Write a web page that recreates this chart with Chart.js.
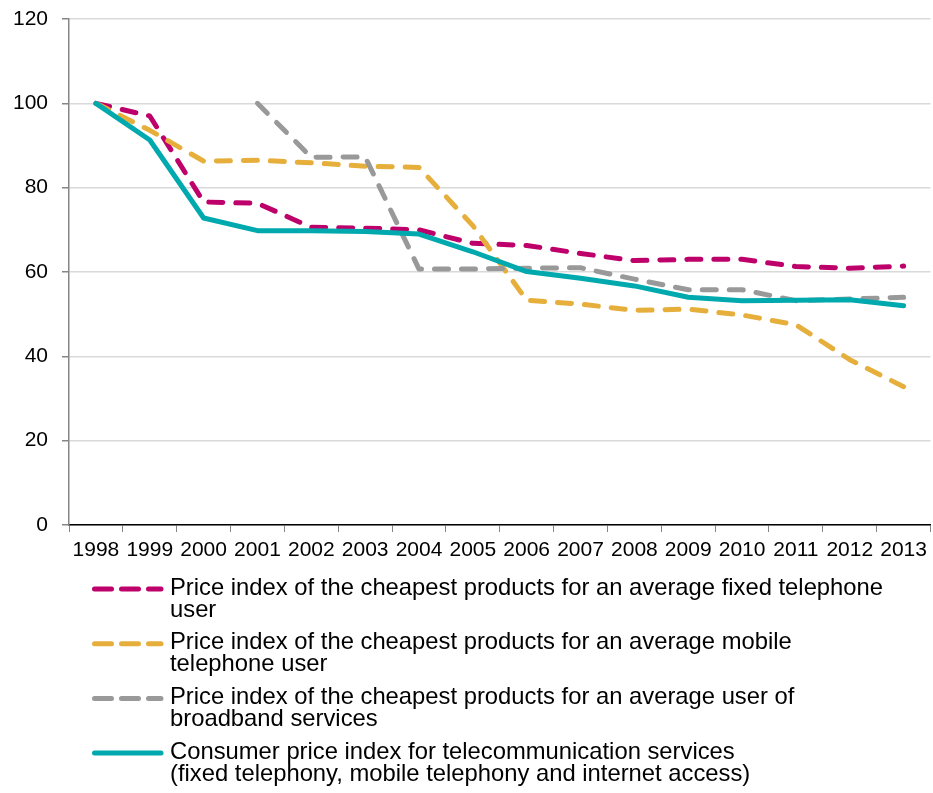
<!DOCTYPE html>
<html>
<head>
<meta charset="utf-8">
<script src="https://cdn.jsdelivr.net/npm/chart.js@4/dist/chart.umd.min.js"></script>
<style>
  html, body { margin: 0; padding: 0; background: #fff; }
  #wrap { width: 933px; height: 793px; position: relative; }
</style>
</head>
<body>
<div id="wrap"><canvas id="c"></canvas></div>
<script>
// --- data ---
const years = ['1998','1999','2000','2001','2002','2003','2004','2005','2006','2007','2008','2009','2010','2011','2012','2013'];
const fixedUser = [100, 97, 76.6, 76.3, 70.6, 70.4, 70, 66.8, 66.3, 64.4, 62.7, 63, 63, 61.3, 60.9, 61.4];
const mobileUser = [100, 93.6, 86.3, 86.5, 85.9, 85.1, 84.8, 71, 53.3, 52.4, 50.9, 51.2, 49.8, 47.5, 39.2, 32.8];
const broadbandUser = [null, null, null, 100, 87.2, 87.3, 60.7, 60.7, 60.9, 61, 58.3, 55.8, 55.8, 53.2, 53.6, 54];
const cpiTelecom = [100, 91.3, 72.8, 69.8, 69.8, 69.6, 69, 64.8, 60.1, 58.5, 56.7, 54, 53.2, 53.3, 53.4, 52];
const yTicks = [0, 20, 40, 60, 80, 100, 120];

const legendLines = [
  ['Price index of the cheapest products for an average fixed telephone', 'user'],
  ['Price index of the cheapest products for an average mobile', 'telephone user'],
  ['Price index of the cheapest products for an average user of', 'broadband services'],
  ['Consumer price index for telecommunication services', '(fixed telephony, mobile telephony and internet access)']
];

const FONT = '"Liberation Sans", Arial, sans-serif';

const line = (label, data, color, dashed, order) => ({
  label, data, order,
  borderColor: color, backgroundColor: color,
  borderWidth: 5,
  borderDash: dashed ? [14, 13] : [],
  borderCapStyle: 'round', borderJoinStyle: 'round',
  pointRadius: 0, tension: 0, fill: false, spanGaps: false
});

// legend drawn under the axis, two text lines per item
const bottomLegend = {
  id: 'bottomLegend',
  afterDraw(chart) {
    const ctx = chart.ctx;
    const top = chart.chartArea.bottom + 63;
    ctx.save();
    ctx.font = '23.8px ' + FONT;
    ctx.fillStyle = '#000';
    ctx.textBaseline = 'middle';
    chart.data.datasets.forEach((ds, i) => {
      const y = top + i * 54.7;
      ctx.beginPath();
      ctx.strokeStyle = ds.borderColor;
      ctx.lineWidth = 5;
      ctx.lineCap = 'round';
      ctx.setLineDash(ds.borderDash.length ? [17, 10] : []);
      ctx.moveTo(94.5, y + 1);
      ctx.lineTo(161, y + 1);
      ctx.stroke();
      ctx.setLineDash([]);
      legendLines[i].forEach((t, k) => ctx.fillText(t, 170, y + k * 22));
    });
    ctx.restore();
  }
};

new Chart(document.getElementById('c'), {
  type: 'line',
  data: {
    labels: years,
    datasets: [
      line(legendLines[0].join(' '), fixedUser, '#BE006B', true, 4),
      line(legendLines[1].join(' '), mobileUser, '#E6AF3C', true, 3),
      line(legendLines[2].join(' '), broadbandUser, '#999999', true, 2),
      line(legendLines[3].join(' '), cpiTelecom, '#00A9AE', false, 1)
    ]
  },
  options: {
    responsive: true, maintainAspectRatio: false, animation: false,
    layout: { padding: { top: 19, right: 1, left: 0, bottom: 0 } },
    plugins: { legend: { display: false }, tooltip: { enabled: false } },
    scales: {
      x: {
        offset: true,
        grid: { offset: true, drawOnChartArea: false, tickLength: 7, tickColor: '#868686' },
        border: { color: '#000', width: 1.5 },
        ticks: { color: '#000', font: { family: FONT, size: 21 }, padding: 6, maxRotation: 0, autoSkip: false },
        afterFit(scale) { scale.height = 268; }
      },
      y: {
        min: 0, max: 120,
        afterBuildTicks(scale) { scale.ticks = yTicks.map(v => ({ value: v })); },
        grid: { color: '#d9d9d9', lineWidth: 1.5, tickLength: 7, tickColor: '#868686' },
        border: { color: '#868686', width: 1.5 },
        ticks: { color: '#000', font: { family: FONT, size: 21 }, padding: 14 },
        afterFit(scale) { scale.width = 69; scale.paddingTop = 0; }
      }
    }
  },
  plugins: [bottomLegend]
});
</script>
</body>
</html>
